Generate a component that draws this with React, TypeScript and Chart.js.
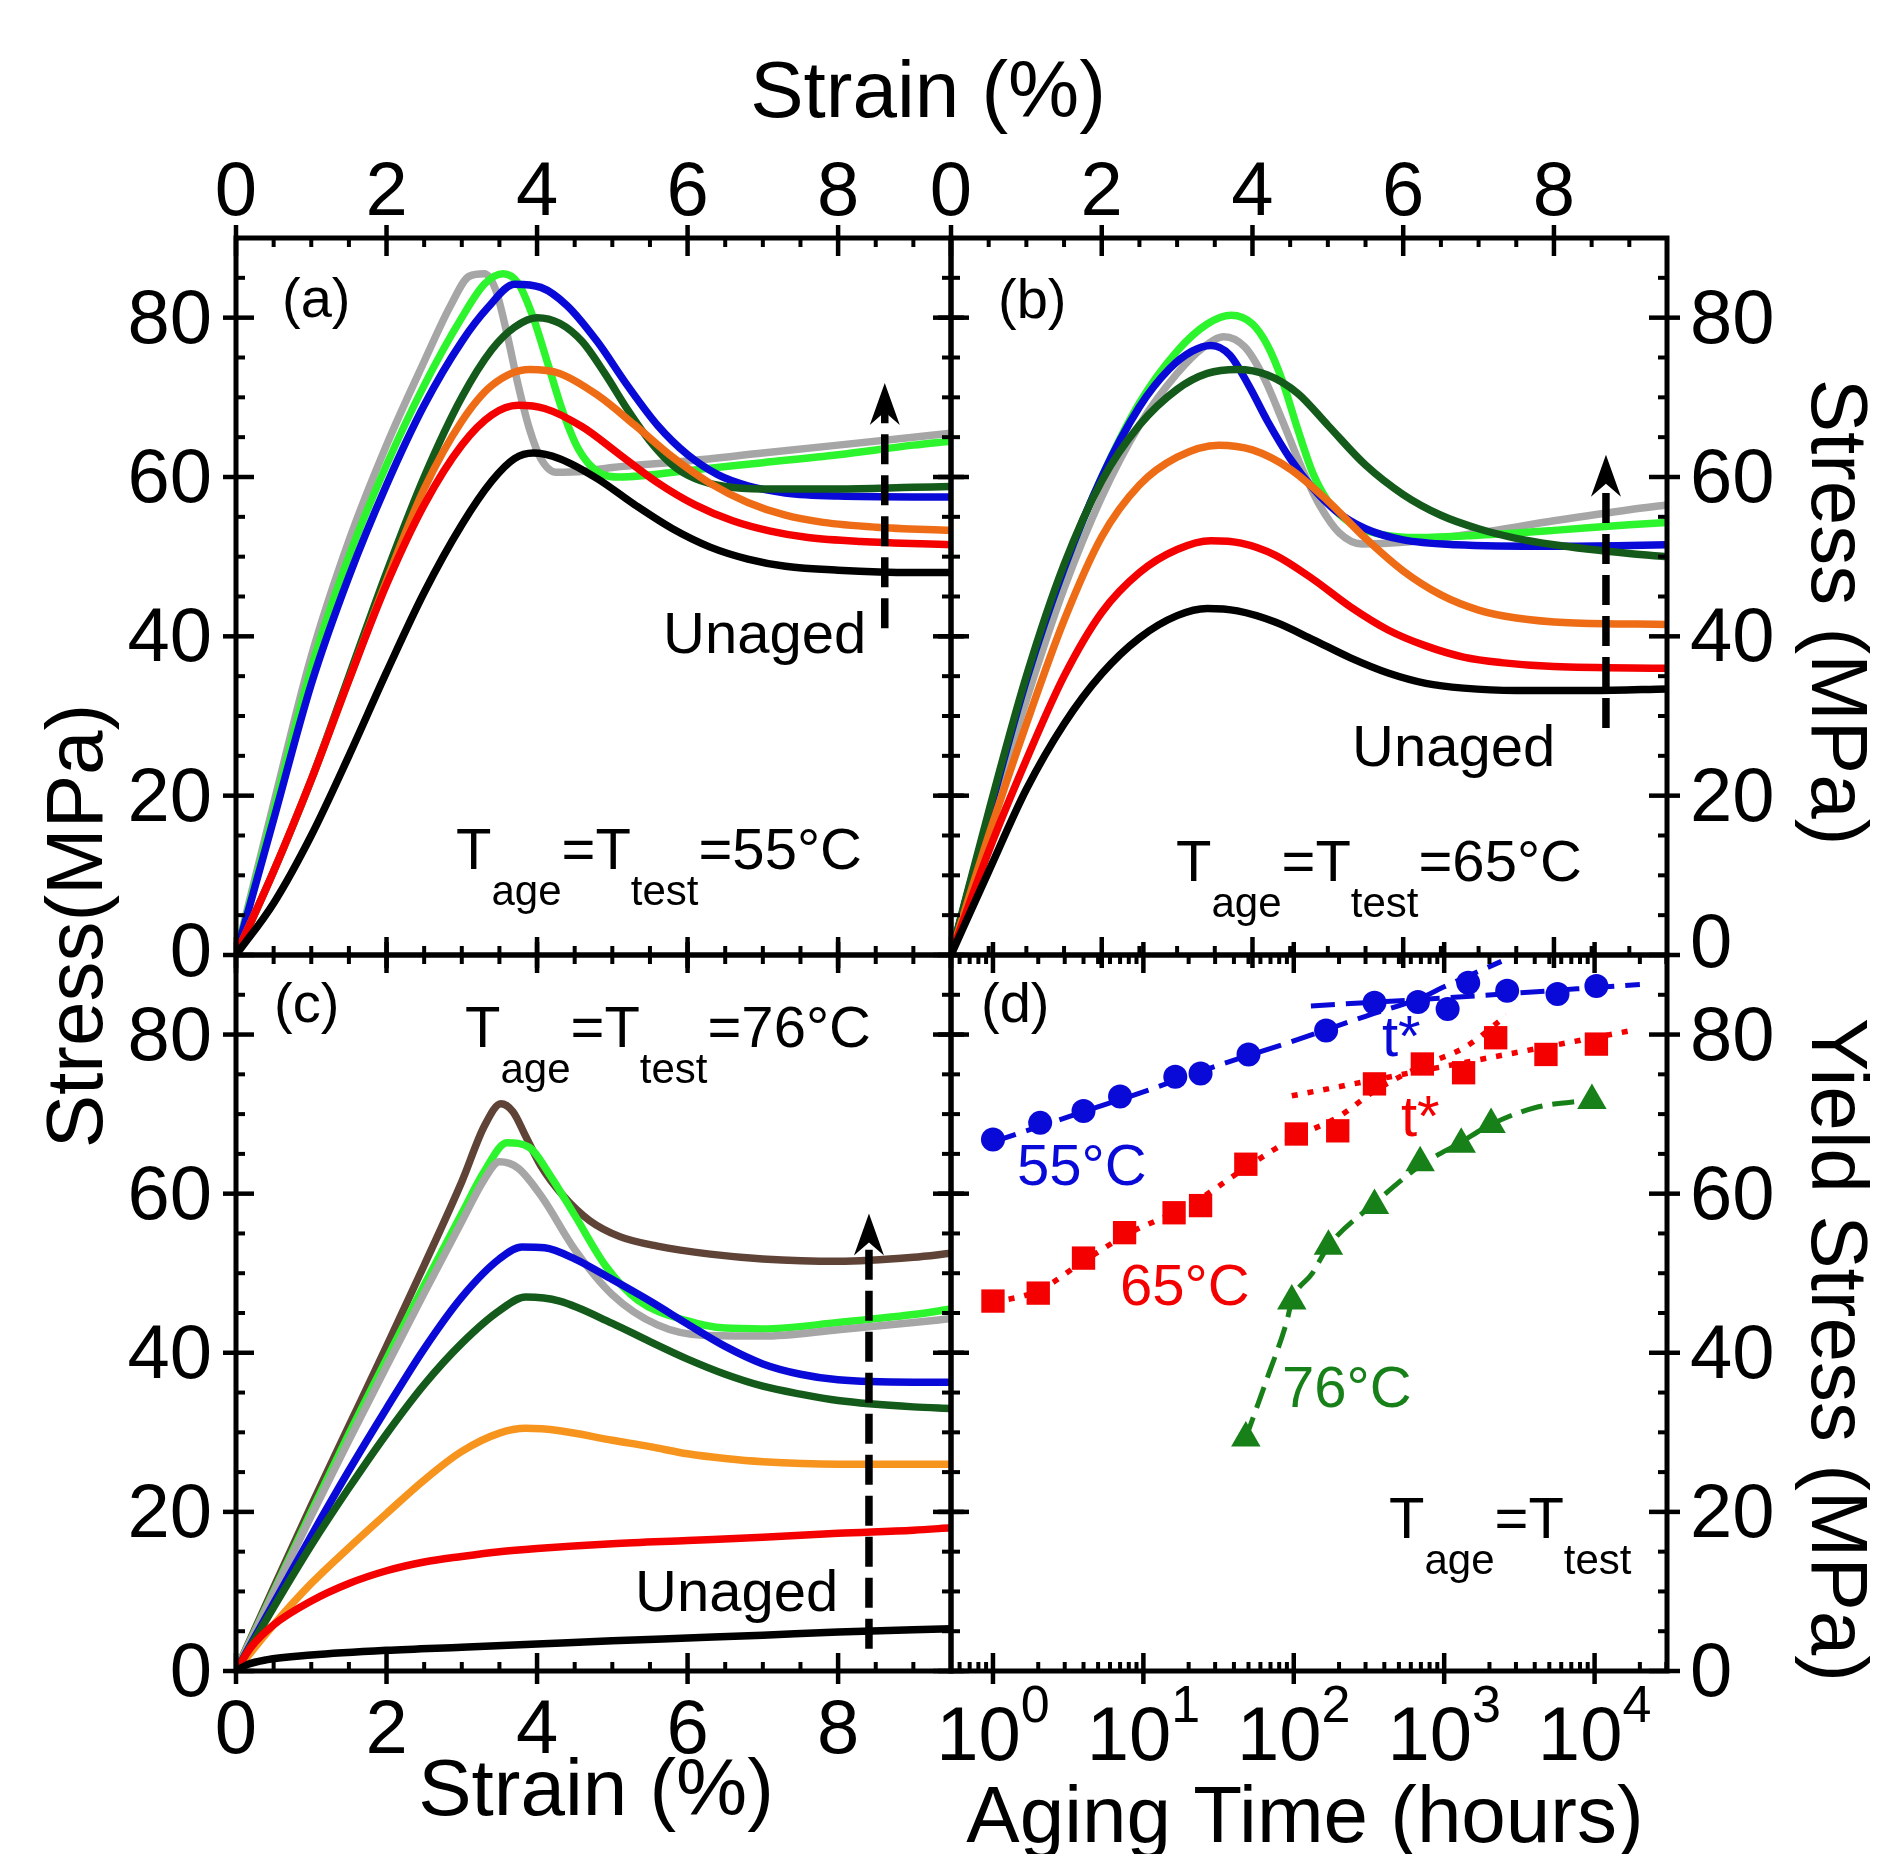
import React, { useEffect, useRef } from "react";
import { Chart, registerables } from "chart.js";
Chart.register(...registerables);

type P = [number, number];

const W = 1890;
const H = 1854;
const FONT = '"Liberation Sans", Arial, Helvetica, sans-serif';

// ---------- axis ticks ----------
const STRAIN_MAJOR = [0, 2, 4, 6, 8];
const STRESS_MAJOR = [0, 20, 40, 60, 80];
const TIME_MAJOR = [1, 10, 100, 1000, 10000];
const TIME_EXP = ["0", "1", "2", "3", "4"];

// ---------- panel (a) T = 55 °C ----------
const A_BLACK: P[] = [[0,0],[0.5,6.5],[1,15],[1.5,25],[2,35.5],[2.5,45.5],[3,54],[3.4,59.5],[3.7,62.3],[3.95,63],[4.3,62.3],[4.8,59.8],[5.3,56.5],[5.8,53.5],[6.3,51.2],[6.8,49.7],[7.3,48.8],[8,48.3],[9,48],[9.5,48]];
const A_RED: P[] = [[0,0],[0.5,10.5],[1,22],[1.5,34.5],[2,46.5],[2.5,56.5],[3,64],[3.4,67.8],[3.75,69],[4.1,68.6],[4.6,66.3],[5.1,62.8],[5.6,59.3],[6.1,56.5],[6.6,54.5],[7.1,53.2],[7.6,52.4],[8.3,51.9],[9.5,51.5]];
const A_ORANGE: P[] = [[0,0],[0.5,10.5],[1,22],[1.5,34.5],[2,47],[2.5,58.5],[3,67],[3.4,71.5],[3.9,73.5],[4.3,73],[4.8,70.3],[5.3,66.5],[5.8,62.5],[6.3,59.2],[6.8,56.8],[7.3,55.2],[7.8,54.3],[8.5,53.7],[9.5,53.3]];
const A_DKGREEN: P[] = [[0,0],[0.5,10.5],[1,22],[1.5,35],[2,48],[2.5,60],[3,70],[3.4,76],[3.7,78.8],[4,80],[4.3,79.3],[4.6,77],[4.9,73],[5.2,68.5],[5.5,64.5],[5.8,61.5],[6.1,59.8],[6.5,58.8],[7,58.5],[8,58.5],[9,58.7],[9.5,58.8]];
const A_BLUE: P[] = [[0,0],[0.5,17],[1,34],[1.5,47.5],[2,59],[2.5,69],[3,77],[3.35,81.3],[3.7,84.2],[4.05,83.8],[4.4,81.5],[4.8,77],[5.2,71.5],[5.6,66.5],[6,62.8],[6.4,60.3],[6.8,58.9],[7.3,58],[8,57.6],[9,57.5],[9.5,57.5]];
const A_GREEN: P[] = [[0,0],[0.5,18],[1,36],[1.5,50],[2,61.5],[2.5,71.5],[3,80],[3.3,84.2],[3.55,85.5],[3.75,84.3],[3.95,80],[4.15,74],[4.35,68],[4.55,63.5],[4.8,60.7],[5.1,60],[6,60.8],[7,61.8],[8,62.8],[9,64],[9.5,64.5]];
const A_GRAY: P[] = [[0,0],[0.5,19],[1,37.5],[1.5,52],[2,64],[2.5,74.5],[2.85,81.5],[3.1,85.2],[3.3,85.5],[3.45,83.5],[3.6,78],[3.75,71.5],[3.9,66],[4.05,62.3],[4.25,60.6],[4.6,60.7],[5,61.2],[6,62],[7,63],[8,64],[9,65],[9.5,65.5]];

// ---------- panel (b) T = 65 °C ----------
const B_BLACK: P[] = [[0,0],[0.5,10.5],[1,20.8],[1.5,29],[2,35.3],[2.5,39.8],[3,42.6],[3.4,43.5],[3.8,43.2],[4.3,41.8],[4.8,39.6],[5.3,37.3],[5.8,35.4],[6.3,34.1],[6.8,33.5],[7.5,33.2],[8.5,33.2],[9.5,33.4]];
const B_RED: P[] = [[0,0],[0.5,13],[1,24.5],[1.5,35],[2,43],[2.5,48],[3,50.9],[3.45,52],[3.85,51.7],[4.3,50.2],[4.8,47.2],[5.3,43.7],[5.8,40.8],[6.3,38.8],[6.8,37.4],[7.3,36.7],[8,36.2],[9.5,36]];
const B_ORANGE: P[] = [[0,0],[0.5,15],[1,29],[1.5,42],[2,52.5],[2.5,59],[3,62.5],[3.55,64],[4,63.4],[4.5,61],[5,57],[5.5,52.3],[6,48.2],[6.5,45.2],[7,43.3],[7.5,42.3],[8.2,41.7],[9.5,41.5]];
const B_DKGREEN: P[] = [[0,0],[0.5,18],[1,35],[1.5,49],[2,59.5],[2.5,66.5],[3,71],[3.4,73],[3.8,73.5],[4.2,72.8],[4.6,70.5],[5,66.5],[5.5,61.5],[6,57.8],[6.5,55.2],[7,53.5],[7.5,52.3],[8,51.5],[9,50.4],[9.5,50]];
const B_BLUE: P[] = [[0,0],[0.5,17.5],[1,34.5],[1.5,48.5],[2,60],[2.5,68.8],[2.9,73.6],[3.2,75.8],[3.45,76.5],[3.7,75.3],[3.95,71.5],[4.2,67],[4.5,62.3],[4.8,58.6],[5.1,55.8],[5.5,53.5],[6,52.1],[6.7,51.5],[8,51.3],[9,51.4],[9.5,51.5]];
const B_GREEN: P[] = [[0,0],[0.5,17.5],[1,34.5],[1.5,48.5],[2,60],[2.5,69.3],[3,75.8],[3.4,79.2],[3.72,80.3],[4,79.2],[4.2,76.5],[4.4,72],[4.6,66],[4.8,60.5],[5,57],[5.3,54.2],[5.7,52.8],[6.2,52.4],[7,52.7],[8,53.3],[9,54],[9.5,54.3]];
const B_GRAY: P[] = [[0,0],[0.5,16.5],[1,32],[1.5,46],[2,57.5],[2.5,66.5],[3,73],[3.35,76.3],[3.62,77.6],[3.9,76.3],[4.15,72.5],[4.4,67],[4.65,61.2],[4.9,56.3],[5.15,53],[5.45,51.6],[6,51.8],[7,53],[8,54.5],[9,55.9],[9.5,56.5]];

// ---------- panel (c) T = 76 °C ----------
const C_BLACK: P[] = [[0,0],[0.15,0.8],[0.4,1.4],[1,2],[2,2.6],[3,3],[4,3.4],[5,3.8],[6,4.15],[7,4.5],[8,4.9],[9.5,5.3]];
const C_RED: P[] = [[0,0],[0.2,3],[0.5,5.8],[1,8.8],[1.5,11],[2,12.6],[2.5,13.7],[3,14.4],[3.5,15],[4,15.4],[5,16],[6,16.4],[7,16.8],[8,17.3],[9,17.7],[9.5,18]];
const C_ORANGE: P[] = [[0,0],[0.5,5.8],[1,11],[1.5,15.5],[2,19.8],[2.5,24],[3,27.6],[3.5,29.9],[3.85,30.5],[4.3,30.2],[5,29],[5.5,28.2],[6,27.3],[6.5,26.7],[7,26.3],[8,26],[9,26],[9.5,26]];
const C_DKGREEN: P[] = [[0,0],[0.5,8],[1,15.8],[1.5,23],[2,29.8],[2.5,36],[3,41.2],[3.5,45.3],[3.85,47],[4.3,46.5],[5,43.7],[5.5,41.4],[6,39.2],[6.5,37.3],[7,35.8],[7.5,34.8],[8,34],[9,33.2],[9.5,33]];
const C_BLUE: P[] = [[0,0],[0.5,8.5],[1,17],[1.5,25.2],[2,33],[2.5,40.5],[3,47],[3.5,51.8],[3.8,53.3],[4.1,53.2],[4.5,51.8],[5,49.2],[5.5,46.5],[6,43.6],[6.5,40.8],[7,38.6],[7.5,37.3],[8,36.6],[9,36.3],[9.5,36.3]];
const C_GREEN: P[] = [[0,0],[0.5,10],[1,20],[1.5,29.8],[2,39.2],[2.5,48.5],[3,57.5],[3.3,62.8],[3.6,66.4],[3.9,65.8],[4.16,62.5],[4.5,57.3],[4.92,50.8],[5.34,46.6],[6,44],[6.5,43.1],[7,43],[8,43.8],[9,44.8],[9.5,45.5]];
const C_GRAY: P[] = [[0,0],[0.5,9.8],[1,19.5],[1.5,29],[2,38.3],[2.5,47.5],[3,56.5],[3.3,61.8],[3.5,64],[3.75,63.2],[4.07,59.5],[4.5,53],[5,47.3],[5.6,43.5],[6.2,42.2],[7,42.1],[8,42.9],[9,43.8],[9.5,44.3]];
const C_BROWN: P[] = [[0,0],[0.5,10.5],[1,20.8],[1.5,30.8],[2,40.8],[2.5,51],[3,61.5],[3.3,68.5],[3.52,71.3],[3.68,70.3],[3.85,67.2],[4.05,63.5],[4.35,59.7],[4.7,56.6],[5.1,54.6],[5.6,53.4],[6.3,52.4],[7,51.8],[8,51.5],[9,52],[9.5,52.5]];

// ---------- panel (d) yield stress vs aging time ----------
const D55_TIME = [1, 2.06, 4.0, 7, 16.3, 24, 50, 164, 344, 669, 1054, 1445, 2622, 5667, 10280];
const D55_YIELD = [66.8, 68.9, 70.4, 72.2, 74.7, 75.1, 77.5, 80.5, 84.0, 84.1, 83.2, 86.5, 85.5, 85.1, 86.1];
const D65_TIME = [1, 2, 4, 7.5, 16, 24, 48, 104, 196, 344, 716, 1346, 2200, 4750, 10280];
const D65_YIELD = [46.5, 47.5, 51.9, 55.1, 57.6, 58.5, 63.7, 67.5, 67.9, 73.8, 76.3, 75.2, 79.6, 77.5, 78.8];
const D76_TIME = [48, 97, 170, 344, 692, 1298, 2050, 9600];
const D76_YIELD = [29.3, 46.5, 53.4, 58.5, 63.9, 66.2, 68.7, 71.7];
// guide lines drawn through the points
const D55_FIT_TIME = [1, 2, 4, 10, 30, 100, 300, 700, 1000, 2400];
const D55_FIT_YIELD = [66.5, 68.4, 70.3, 72.8, 76, 79.2, 82.3, 84.6, 86, 89.2];
const D55_TSTAR_TIME = [130, 1000, 20000];
const D55_TSTAR_YIELD = [83.6, 84.6, 86.3];
const D65_FIT_TIME = [1, 2, 4, 8, 20, 50, 100, 200, 350, 700, 1400, 2600];
const D65_FIT_YIELD = [46.3, 47.8, 51.5, 55, 58.5, 63.5, 67, 69.7, 73, 76, 78.5, 82.4];
const D65_TSTAR_TIME = [97, 1000, 18700];
const D65_TSTAR_YIELD = [72.3, 76, 80.6];
const D76_FIT_TIME = [48, 66, 90, 97, 133, 170, 344, 692, 1300, 2050, 4000, 9600];
const D76_FIT_YIELD = [29.3, 36.6, 44, 46.5, 50, 53.4, 58.8, 63.5, 66.5, 68.7, 70.8, 71.8];

// ---------- styling ----------
const COL = {
  black: "#000000",
  red: "#f40000",
  orange: "#ef6c16",
  orangeC: "#f7941d",
  dkgreen: "#145a1a",
  blue: "#0a0ad8",
  green: "#2df52d",
  gray: "#a6a6a6",
  brown: "#5f4337",
  dgreen: "#188018",
};

const TICK_FS = 76;
const TITLE_FS = 80;
const ANN_FS = 58;
const SUB_FS = 42;
const EXP_FS = 52;
const MAJ_IN = 18;
const MAJ_OUT = 13;
const MIN_IN = 9;

type Series = { pts: P[]; color: string };

type PanelCfg = {
  key: string;
  L: number; R: number; T: number; B: number;
  log: boolean;
  series?: Series[];
  labelTop?: boolean; labelBottom?: boolean; labelLeft?: boolean; labelRight?: boolean;
  zeroLift?: number;
  tag: string; tagPos: P;
  unaged?: P;
  ttext: P; tsuffix: string;
  arrow?: { x: number; y0: number; y1: number };
};

const PANELS: PanelCfg[] = [
  {
    key: "a", L: 236, R: 951, T: 238, B: 955, log: false,
    series: [
      { pts: A_BLACK, color: COL.black }, { pts: A_RED, color: COL.red }, { pts: A_ORANGE, color: COL.orange },
      { pts: A_DKGREEN, color: COL.dkgreen }, { pts: A_BLUE, color: COL.blue }, { pts: A_GREEN, color: COL.green },
      { pts: A_GRAY, color: COL.gray },
    ],
    labelTop: true, labelLeft: true, zeroLift: 4, tag: "(a)", tagPos: [282, 317], unaged: [663, 653],
    ttext: [456, 869], tsuffix: "=55°C", arrow: { x: 8.62, y0: 41, y1: 71.8 },
  },
  {
    key: "b", L: 951, R: 1667, T: 238, B: 955, log: false,
    series: [
      { pts: B_BLACK, color: COL.black }, { pts: B_RED, color: COL.red }, { pts: B_ORANGE, color: COL.orange },
      { pts: B_DKGREEN, color: COL.dkgreen }, { pts: B_BLUE, color: COL.blue }, { pts: B_GREEN, color: COL.green },
      { pts: B_GRAY, color: COL.gray },
    ],
    labelTop: true, labelRight: true, zeroLift: 13, tag: "(b)", tagPos: [998, 318], unaged: [1352, 766],
    ttext: [1176, 881], tsuffix: "=65°C", arrow: { x: 8.69, y0: 28.5, y1: 62.8 },
  },
  {
    key: "c", L: 236, R: 951, T: 955, B: 1671, log: false,
    series: [
      { pts: C_BLACK, color: COL.black }, { pts: C_RED, color: COL.red }, { pts: C_ORANGE, color: COL.orangeC },
      { pts: C_DKGREEN, color: COL.dkgreen }, { pts: C_BLUE, color: COL.blue }, { pts: C_GRAY, color: COL.gray },
      { pts: C_GREEN, color: COL.green }, { pts: C_BROWN, color: COL.brown },
    ],
    labelBottom: true, labelLeft: true, tag: "(c)", tagPos: [274, 1022], unaged: [635, 1611],
    ttext: [465, 1047], tsuffix: "=76°C", arrow: { x: 8.41, y0: 2.8, y1: 57.5 },
  },
  {
    key: "d", L: 951, R: 1667, T: 955, B: 1671, log: true,
    labelBottom: true, labelRight: true, tag: "(d)", tagPos: [981, 1022],
    ttext: [1389, 1538], tsuffix: "",
  },
];

function zipPts(xs: number[], ys: number[]) {
  return xs.map((x, i) => ({ x, y: ys[i] }));
}

function buildDatasets(cfg: PanelCfg): any[] {
  if (!cfg.log) {
    return (cfg.series || []).map((s) => ({
      data: s.pts.map(([x, y]) => ({ x, y })),
      borderColor: s.color,
      borderWidth: 7.5,
      pointRadius: 0,
      fill: false,
      cubicInterpolationMode: "monotone",
      borderCapStyle: "round",
      borderJoinStyle: "round",
    }));
  }
  const pts = (t: number[], y: number[], color: string, style: string, r: number) => ({
    data: zipPts(t, y),
    showLine: false,
    pointStyle: style,
    pointRadius: r,
    pointBackgroundColor: color,
    pointBorderColor: color,
    pointBorderWidth: 0,
  });
  const line = (t: number[], y: number[], color: string, dash: number[], w: number) => ({
    data: zipPts(t, y),
    borderColor: color,
    borderWidth: w,
    borderDash: dash,
    pointRadius: 0,
    fill: false,
    cubicInterpolationMode: "monotone",
  });
  return [
    pts(D55_TIME, D55_YIELD, COL.blue, "circle", 12),
    pts(D65_TIME, D65_YIELD, COL.red, "rect", 16.5),
    pts(D76_TIME, D76_YIELD, COL.dgreen, "triangle", 17),
    line(D55_FIT_TIME, D55_FIT_YIELD, COL.blue, [24, 11], 5),
    line(D55_TSTAR_TIME, D55_TSTAR_YIELD, COL.blue, [24, 11], 5),
    line(D65_FIT_TIME, D65_FIT_YIELD, COL.red, [6, 10], 5.5),
    line(D65_TSTAR_TIME, D65_TSTAR_YIELD, COL.red, [6, 10], 5.5),
    line(D76_FIT_TIME, D76_FIT_YIELD, COL.dgreen, [22, 10], 5),
  ];
}

function linMinors(min: number, max: number, step: number, majors: number[]) {
  const out: number[] = [];
  for (let v = min + step; v < max - 1e-9; v += step) {
    const r = Math.round(v * 1000) / 1000;
    if (!majors.some((m) => Math.abs(m - r) < 1e-6)) out.push(r);
  }
  return out;
}

function logMinors(min: number, max: number) {
  const out: number[] = [];
  for (let e = -1; e <= 4; e++) {
    for (let m = 2; m <= 9; m++) {
      const v = m * Math.pow(10, e);
      if (v > min && v < max) out.push(v);
    }
  }
  return out;
}

function seg(ctx: CanvasRenderingContext2D, x1: number, y1: number, x2: number, y2: number) {
  ctx.beginPath();
  ctx.moveTo(x1, y1);
  ctx.lineTo(x2, y2);
  ctx.stroke();
}

function drawTText(ctx: CanvasRenderingContext2D, x: number, y: number, suffix: string) {
  const parts: [string, boolean][] = [["T", false], ["age", true], ["=T", false], ["test", true]];
  if (suffix) parts.push([suffix, false]);
  let cx = x;
  ctx.textAlign = "left";
  ctx.textBaseline = "alphabetic";
  for (const [t, sub] of parts) {
    ctx.font = `${sub ? SUB_FS : ANN_FS}px ${FONT}`;
    ctx.fillText(t, cx, sub ? y + 36 : y);
    cx += ctx.measureText(t).width;
  }
}

function drawRotated(ctx: CanvasRenderingContext2D, text: string, x: number, y: number, angle: number, fs: number) {
  ctx.save();
  ctx.translate(x, y);
  ctx.rotate(angle);
  ctx.font = `${fs}px ${FONT}`;
  ctx.textAlign = "center";
  ctx.textBaseline = "alphabetic";
  ctx.fillText(text, 0, 0);
  ctx.restore();
}

function drawArrow(ctx: CanvasRenderingContext2D, px: number, pb: number, pt: number) {
  ctx.save();
  ctx.strokeStyle = "#000";
  ctx.lineWidth = 7.5;
  ctx.lineCap = "butt";
  ctx.setLineDash([30, 11]);
  seg(ctx, px, pb, px, pt + 28);
  ctx.setLineDash([]);
  ctx.fillStyle = "#000";
  ctx.beginPath();
  ctx.moveTo(px, pt);
  ctx.lineTo(px - 15, pt + 42);
  ctx.lineTo(px, pt + 29);
  ctx.lineTo(px + 15, pt + 42);
  ctx.closePath();
  ctx.fill();
  ctx.restore();
}

function decoPlugin(cfg: PanelCfg) {
  return {
    id: "deco_" + cfg.key,
    afterDatasetsDraw(chart: any) {
      const ctx: CanvasRenderingContext2D = chart.ctx;
      const xs = chart.scales.x;
      const ys = chart.scales.y;
      const { left: L, right: R, top: T, bottom: B } = chart.chartArea;
      ctx.save();

      if (cfg.arrow) {
        drawArrow(ctx, xs.getPixelForValue(cfg.arrow.x), ys.getPixelForValue(cfg.arrow.y0), ys.getPixelForValue(cfg.arrow.y1));
      }

      // ticks
      ctx.strokeStyle = "#000";
      ctx.lineCap = "butt";
      const xMaj = cfg.log ? TIME_MAJOR : STRAIN_MAJOR;
      const xMin = cfg.log ? logMinors(xs.min, xs.max) : linMinors(0, 9.5, 0.5, STRAIN_MAJOR);
      const yMin = linMinors(0, 90, 5, STRESS_MAJOR);
      ctx.lineWidth = 4.5;
      for (const v of xMaj) {
        const px = xs.getPixelForValue(v);
        seg(ctx, px, T - MAJ_OUT, px, T + MAJ_IN);
        seg(ctx, px, B - MAJ_IN, px, B + MAJ_OUT);
      }
      for (const v of STRESS_MAJOR) {
        const py = ys.getPixelForValue(v);
        seg(ctx, L - MAJ_OUT, py, L + MAJ_IN, py);
        seg(ctx, R - MAJ_IN, py, R + MAJ_OUT, py);
      }
      ctx.lineWidth = 4;
      for (const v of xMin) {
        const px = xs.getPixelForValue(v);
        seg(ctx, px, T, px, T + MIN_IN);
        seg(ctx, px, B - MIN_IN, px, B);
      }
      for (const v of yMin) {
        const py = ys.getPixelForValue(v);
        seg(ctx, L, py, L + MIN_IN, py);
        seg(ctx, R - MIN_IN, py, R, py);
      }
      ctx.lineWidth = 5;
      ctx.strokeRect(L, T, R - L, B - T);

      // tick labels
      ctx.fillStyle = "#000";
      ctx.font = `${TICK_FS}px ${FONT}`;
      ctx.textBaseline = "alphabetic";
      if (cfg.labelTop) {
        ctx.textAlign = "center";
        for (const v of STRAIN_MAJOR) ctx.fillText(String(v), xs.getPixelForValue(v), 215);
      }
      if (cfg.labelBottom && !cfg.log) {
        ctx.textAlign = "center";
        for (const v of STRAIN_MAJOR) ctx.fillText(String(v), xs.getPixelForValue(v), 1753);
      }
      if (cfg.labelBottom && cfg.log) {
        TIME_MAJOR.forEach((v, i) => {
          const px = xs.getPixelForValue(v);
          ctx.font = `${TICK_FS}px ${FONT}`;
          const bw = ctx.measureText("10").width;
          ctx.font = `${EXP_FS}px ${FONT}`;
          const ew = ctx.measureText(TIME_EXP[i]).width;
          const x0 = px - (bw + ew) / 2;
          ctx.textAlign = "left";
          ctx.font = `${TICK_FS}px ${FONT}`;
          ctx.fillText("10", x0, 1760);
          ctx.font = `${EXP_FS}px ${FONT}`;
          ctx.fillText(TIME_EXP[i], x0 + bw, 1722);
        });
      }
      ctx.font = `${TICK_FS}px ${FONT}`;
      const lift = (v: number) => (v === 0 ? cfg.zeroLift || 0 : 0);
      if (cfg.labelLeft) {
        ctx.textAlign = "right";
        for (const v of STRESS_MAJOR) ctx.fillText(String(v), L - 24, ys.getPixelForValue(v) + 25 - lift(v));
      }
      if (cfg.labelRight) {
        ctx.textAlign = "left";
        for (const v of STRESS_MAJOR) ctx.fillText(String(v), R + 23, ys.getPixelForValue(v) + 25 - lift(v));
      }

      // panel annotations
      ctx.textAlign = "left";
      ctx.font = `56px ${FONT}`;
      ctx.fillText(cfg.tag, cfg.tagPos[0], cfg.tagPos[1]);
      if (cfg.unaged) {
        ctx.font = `${ANN_FS}px ${FONT}`;
        ctx.fillText("Unaged", cfg.unaged[0], cfg.unaged[1]);
      }
      drawTText(ctx, cfg.ttext[0], cfg.ttext[1], cfg.tsuffix);

      if (cfg.key === "d") {
        ctx.font = `${ANN_FS}px ${FONT}`;
        ctx.textAlign = "left";
        ctx.fillStyle = COL.blue;
        ctx.fillText("55°C", 1017, 1185);
        ctx.fillText("t*", 1382, 1056);
        ctx.fillStyle = COL.red;
        ctx.fillText("65°C", 1120, 1305);
        ctx.fillText("t*", 1401, 1136);
        ctx.fillStyle = COL.dgreen;
        ctx.fillText("76°C", 1282, 1407);
        ctx.fillStyle = "#000";
      }

      // axis titles
      ctx.fillStyle = "#000";
      ctx.font = `${TITLE_FS}px ${FONT}`;
      ctx.textAlign = "center";
      if (cfg.key === "a") {
        ctx.fillText("Strain (%)", 928, 117);
        drawRotated(ctx, "Stress(MPa)", 102, 926, -Math.PI / 2, TITLE_FS);
      }
      if (cfg.key === "b") {
        drawRotated(ctx, "Stress (MPa)", 1812, 612, Math.PI / 2, TITLE_FS);
      }
      if (cfg.key === "c") {
        ctx.fillText("Strain (%)", 596, 1815);
      }
      if (cfg.key === "d") {
        ctx.fillText("Aging Time (hours)", 1305, 1842);
        drawRotated(ctx, "Yield Stress (MPa)", 1812, 1350, Math.PI / 2, TITLE_FS);
      }
      ctx.restore();
    },
  };
}

function Panel({ cfg }: { cfg: PanelCfg }) {
  const ref = useRef<HTMLCanvasElement>(null);
  useEffect(() => {
    const canvas = ref.current;
    if (!canvas) return;
    const chart = new Chart(canvas, {
      type: "line",
      data: { datasets: buildDatasets(cfg) },
      options: {
        responsive: false,
        animation: false,
        devicePixelRatio: 1,
        events: [],
        layout: { padding: { left: cfg.L, top: cfg.T, right: W - cfg.R, bottom: H - cfg.B } },
        plugins: { legend: { display: false }, tooltip: { enabled: false }, title: { display: false } },
        scales: {
          x: cfg.log
            ? { type: "logarithmic", min: 0.526, max: 30300, display: false }
            : { type: "linear", min: 0, max: 9.5, display: false },
          y: { type: "linear", min: 0, max: 90, display: false },
        },
      } as any,
      plugins: [decoPlugin(cfg)],
    } as any);
    return () => chart.destroy();
  }, [cfg]);
  return (
    <canvas
      ref={ref}
      width={W}
      height={H}
      style={{ position: "absolute", left: 0, top: 0, width: W, height: H }}
    />
  );
}

export default function App() {
  return (
    <div
      style={{
        position: "absolute",
        left: 0,
        top: 0,
        width: W,
        height: H,
        background: "#ffffff",
        overflow: "hidden",
      }}
    >
      {PANELS.map((p) => (
        <Panel key={p.key} cfg={p} />
      ))}
    </div>
  );
}
